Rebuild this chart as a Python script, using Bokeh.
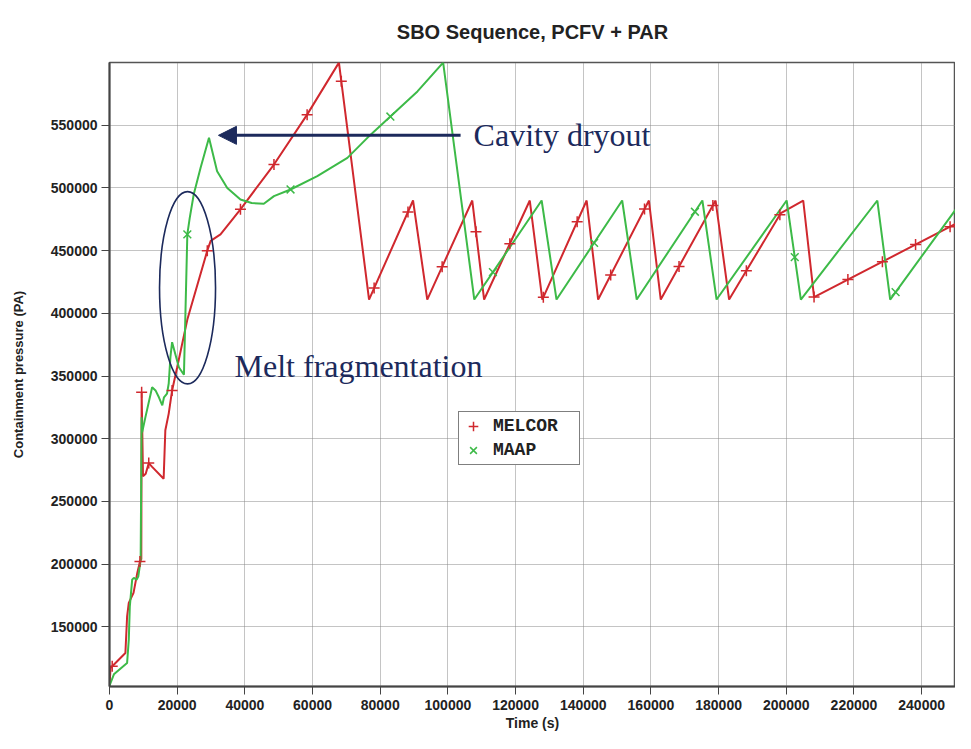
import numpy as np
from bokeh.plotting import figure
from bokeh.models import (Range1d, FixedTicker, NumeralTickFormatter, Legend, LegendItem,
                          Label, Arrow, NormalHead, Title)
from bokeh.embed import file_html
from bokeh.resources import INLINE

# ---------------- data ----------------
title_text = "SBO Sequence, PCFV + PAR"
x_label = "Time (s)"
y_label = "Containment pressure (PA)"
x_ticks = [0, 20000, 40000, 60000, 80000, 100000, 120000, 140000, 160000, 180000,
           200000, 220000, 240000]
y_ticks = [150000, 200000, 250000, 300000, 350000, 400000, 450000, 500000, 550000]

melcor_t = [0, 300, 4700, 5200, 5700, 7100, 8200, 9000, 9400, 9500,
            9900, 10700, 11600, 12600, 16000, 16500, 17500, 18500, 20000, 23000,
            28900, 29900, 32800, 38700, 48600, 58400, 67800, 76700, 89700, 93900,
            107200, 110700, 124200, 127900, 141000, 144400, 159400, 162900, 179100, 183100,
            198400, 205000, 208200, 254500]
melcor_p = [103000, 117000, 129000, 158000, 169000, 177000, 192700, 202000, 204000, 337000,
            270000, 272000, 280500, 277500, 268000, 306700, 320000, 338500, 357000, 395000,
            450000, 457800, 463000, 483000, 518700, 558500, 600000, 411000, 490000, 411000,
            490000, 411000, 490000, 411000, 490000, 411000, 490000, 411000, 490000, 411000,
            480000, 490000, 413000, 477600]

maap_t = [0, 1300, 5200, 5700, 6000, 6700, 7200, 8000, 8500, 9200,
          9500, 9650, 10600, 12600, 13600, 14600, 15600, 16100, 17000, 17500,
          18000, 18500, 20500, 22000, 23000, 23700, 24900, 26900, 29400, 31800,
          34800, 38700, 42000, 45600, 48600, 53500, 61400, 70300, 76200, 83000,
          91000, 98600, 107800, 127700, 132100, 151500, 155800, 175200, 179400, 200100,
          204300, 226900, 230700, 252000, 253000]
maap_p = [103000, 112000, 121000, 139700, 166000, 187500, 189000, 187500, 190000, 203000,
          317000, 305000, 317000, 341000, 338500, 333000, 326600, 333000, 336000, 344000,
          365000, 377000, 357000, 351000, 463000, 476000, 495000, 516000, 540000, 513400,
          500000, 490800, 488000, 487400, 493500, 498800, 509400, 524000, 540000, 557000,
          577000, 600000, 411000, 490000, 411000, 490000, 411000, 490000, 411000, 490000,
          411000, 490000, 411000, 490000, 487000]

melcor_mark_t = [800, 9000, 9500, 11600, 18500, 28900, 38700, 48600, 58400, 68500,
                 78200, 88200, 98300, 108300, 118300, 128200, 138200, 148100, 158100,
                 168300, 178300, 188200, 198100, 208200, 218200, 228400, 238200, 248400]
maap_mark_t = [23000, 53500, 83000, 113300, 143200, 173000, 202500, 232300]

series_names = ["MELCOR", "MAAP"]
annot_melt = "Melt fragmentation"
annot_cavity = "Cavity dryout"

# ---------------- styling ----------------
RED = "#d0282e"
GREEN = "#3dba48"
NAVY = "#1c2a5c"
FONT = "Liberation Sans"

p = figure(width=955, height=733, title=None,
           x_range=Range1d(0, 250000), y_range=Range1d(102300, 600100),
           output_backend="svg", toolbar_location=None,
           min_border_left=109, min_border_right=0, min_border_top=62, min_border_bottom=45)

p.background_fill_color = "white"
p.border_fill_color = "white"
p.outline_line_color = "#555555"
p.outline_line_width = 1.5

p.add_layout(Title(text=title_text, align="center", vertical_align="top",
                   text_font=FONT, text_font_style="bold",
                   text_font_size="20px", text_color="#222222", standoff=35), "above")

xa = p.xaxis[0]
xa.ticker = FixedTicker(ticks=x_ticks)
xa.formatter = NumeralTickFormatter(format="0")
ya = p.yaxis[0]
ya.ticker = FixedTicker(ticks=y_ticks)
ya.formatter = NumeralTickFormatter(format="0")
for ax in (xa, ya):
    ax.axis_line_color = "#444444"
    ax.axis_line_width = 2
    ax.major_tick_line_color = "#444444"
    ax.major_tick_in = 0
    ax.minor_tick_line_color = None
    ax.major_label_text_font = FONT
    ax.major_label_text_font_style = "bold"
    ax.major_label_text_font_size = "14px"
    ax.major_label_text_color = "#222222"
    ax.axis_label_text_font = FONT
    ax.axis_label_text_font_style = "bold"
    ax.axis_label_text_color = "#222222"
xa.major_tick_out = 8
xa.major_label_standoff = 5
xa.axis_label = x_label
xa.axis_label_text_font_size = "14px"
xa.axis_label_standoff = 2
ya.major_tick_out = 8
ya.major_label_standoff = 4
ya.axis_label = y_label
ya.axis_label_text_font_size = "13px"
ya.axis_label_standoff = 22

for g in (p.xgrid[0], p.ygrid[0]):
    g.grid_line_color = "#888888"
    g.grid_line_dash = "1 1"
    g.grid_line_width = 1

# lines
p.line(melcor_t, melcor_p, line_color=RED, line_width=2)
p.line(maap_t, maap_p, line_color=GREEN, line_width=2)

# markers placed on the curves
mel_y = np.interp(melcor_mark_t, melcor_t, melcor_p)
maap_y = np.interp(maap_mark_t, maap_t, maap_p)
r1 = p.scatter(melcor_mark_t, mel_y, marker="cross", size=11, line_color=RED, line_width=1.5)
r2 = p.scatter(maap_mark_t, maap_y, marker="x", size=11, line_color=GREEN, line_width=1.5)

# annotations
p.ellipse(x=[23060], y=[420400], width=[16550], height=[153500],
          fill_color=None, line_color=NAVY, line_width=1.6)
p.add_layout(Label(x=36950, y=358300, text=annot_melt, text_font="Liberation Serif",
                   text_font_size="32px", text_color=NAVY, text_baseline="middle"))
p.add_layout(Label(x=107600, y=542000, text=annot_cavity, text_font="Liberation Serif",
                   text_font_size="32px", text_color=NAVY, text_baseline="middle"))
p.add_layout(Arrow(end=NormalHead(size=18, fill_color=NAVY, line_color=NAVY),
                   x_start=103750, y_start=542000, x_end=32200, y_end=542000,
                   line_color=NAVY, line_width=3))

legend = Legend(items=[LegendItem(label=series_names[0], renderers=[r1]),
                       LegendItem(label=series_names[1], renderers=[r2])],
                location=(349, 221))
legend.border_line_color = "black"
legend.border_line_width = 1
legend.background_fill_color = "white"
legend.background_fill_alpha = 1
legend.label_text_font = "Liberation Mono"
legend.label_text_font_style = "bold"
legend.label_text_font_size = "18px"
legend.label_text_color = "#222222"
legend.glyph_width = 24
legend.glyph_height = 24
legend.label_height = 24
legend.label_width = 84
legend.label_standoff = 8
legend.padding = 2
legend.spacing = 0
legend.margin = 0
p.add_layout(legend)

open("out.html", "w").write(file_html(p, INLINE))
